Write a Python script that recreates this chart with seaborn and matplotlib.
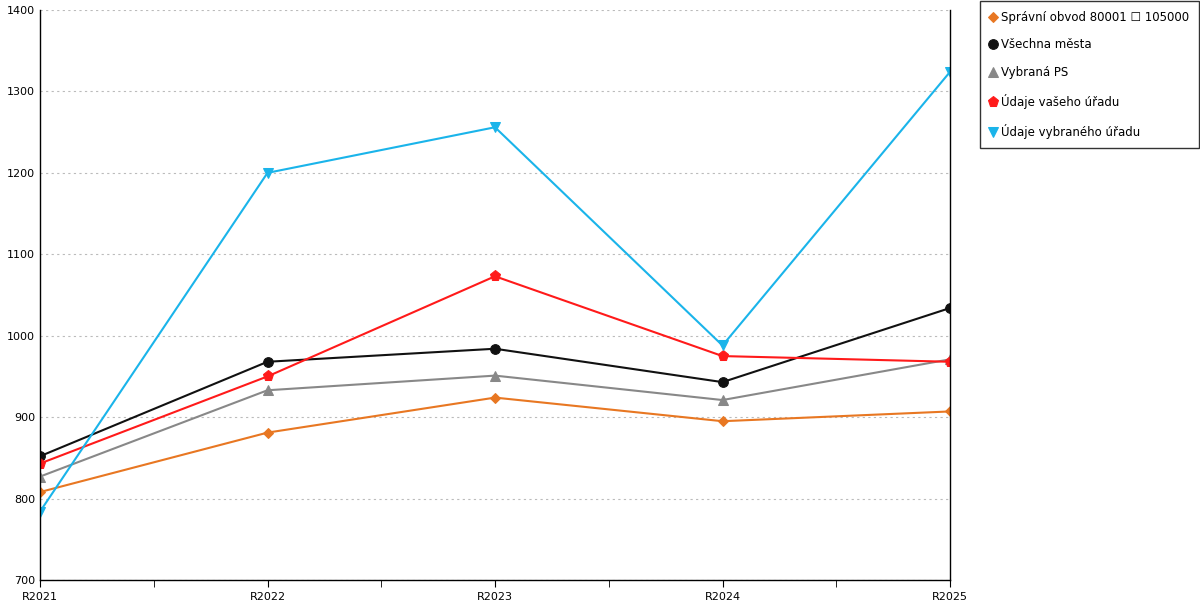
import numpy as np
import pandas as pd
import seaborn as sns
import matplotlib.pyplot as plt
from matplotlib.ticker import MultipleLocator

sns.set_style("white")
plt.rcParams['font.family'] = ['DejaVu Sans']
plt.rcParams['text.color'] = 'black'
plt.rcParams['xtick.color'] = 'black'
plt.rcParams['ytick.color'] = 'black'

years = ["R2021", "R2022", "R2023", "R2024", "R2025"]
series_names = ["Správní obvod 80001 \u2610 105000", "Všechna města", "Vybraná PS",
                "Údaje vašeho úřadu", "Údaje vybraného úřadu"]
obvod = [808, 881, 924, 895, 907]
mesta = [852, 968, 984, 943, 1034]
vybrana_ps = [827, 933, 951, 921, 971]
vas_urad = [843, 950, 1073, 975, 968]
vybrany_urad = [784, 1200, 1256, 988, 1324]

colors = ["#e87722", "#111111", "#888888", "#ff1a1a", "#1ab4ea"]
markers = ["D", "o", "^", "p", "v"]
sizes = [5, 7, 7, 8, 7]

fig = plt.figure(figsize=(12, 6), dpi=100)
ax = fig.add_axes([40 / 1200, 20 / 600, 910 / 1200, 570 / 600])

x = np.arange(len(years))
for name, vals, c, m, s in zip(series_names, [obvod, mesta, vybrana_ps, vas_urad, vybrany_urad],
                               colors, markers, sizes):
    df = pd.DataFrame({"x": x, "y": vals})
    sns.lineplot(data=df, x="x", y="y", ax=ax, color=c, marker=m, markersize=s,
                 markeredgecolor=c, linewidth=1.5, label=name)

ax.set_xlim(0, 4)
ax.set_ylim(700, 1400)
ax.set_xticks(x)
ax.set_xticklabels(years, fontsize=8)
ax.xaxis.set_minor_locator(MultipleLocator(0.5))
ax.yaxis.set_major_locator(MultipleLocator(100))
ax.tick_params(axis="y", labelsize=8, length=0)
ax.tick_params(axis="x", which="both", direction="out", length=5, color="black", bottom=True)
ax.set_xlabel("")
ax.set_ylabel("")
ax.yaxis.grid(True, linestyle=(0, (2, 3)), color="#bbbbbb", linewidth=0.8)
for side in ["left", "bottom", "right"]:
    ax.spines[side].set_color("black")
    ax.spines[side].set_linewidth(1)
ax.spines["top"].set_visible(False)

handles, labels = ax.get_legend_handles_labels()
ax.get_legend().remove()
leg = fig.legend(handles, labels, loc="upper left", bbox_to_anchor=(980 / 1200, 0.998),
                 fontsize=8.5, frameon=True, fancybox=False, edgecolor="black",
                 handlelength=0.6, labelspacing=1.25, borderpad=0.8, handletextpad=0.4,
                 borderaxespad=0)
for line in leg.get_lines():
    line.set_linestyle("")
leg.get_frame().set_linewidth(1)

fig.savefig("out.png", dpi=100)
